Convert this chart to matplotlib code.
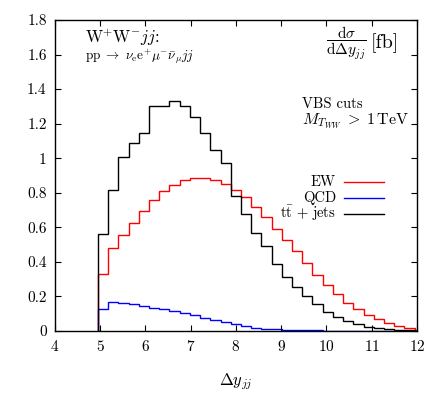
import numpy as np
import matplotlib
matplotlib.use("Agg")
import matplotlib.pyplot as plt
from matplotlib.ticker import FormatStrFormatter

# ============================================
# DATA
# ============================================

bin_start = 4.95
bin_width = 0.2257

ew = [0.329, 0.481, 0.558, 0.627, 0.694, 0.756, 0.808, 0.846, 0.875, 0.885,
      0.885, 0.875, 0.852, 0.818, 0.775, 0.717, 0.660, 0.590, 0.525, 0.462,
      0.394, 0.327, 0.267, 0.212, 0.160, 0.125, 0.092, 0.067, 0.044, 0.029,
      0.016, 0.006]

qcd = [0.130, 0.165, 0.162, 0.154, 0.145, 0.135, 0.125, 0.114, 0.102, 0.090,
       0.077, 0.064, 0.050, 0.038, 0.028, 0.020, 0.014, 0.010, 0.007, 0.005,
       0.004, 0.003, 0.002, 0.002, 0.001, 0.001, 0.001, 0.001, 0.0, 0.0,
       0.0, 0.0]

ttbar = [0.560, 0.818, 1.010, 1.089, 1.144, 1.304, 1.304, 1.333, 1.304, 1.241,
         1.144, 1.050, 0.971, 0.779, 0.679, 0.570, 0.490, 0.385, 0.310, 0.256,
         0.202, 0.156, 0.108, 0.079, 0.056, 0.040, 0.025, 0.016, 0.010, 0.006,
         0.004, 0.002]

labels = ["EW", "QCD", r"$\mathrm{t}\bar{\mathrm{t}}\,+\,\mathrm{jets}$"]
colors = ["#ff0000", "#0000ff", "#000000"]

x_ticks = [4, 5, 6, 7, 8, 9, 10, 11, 12]
y_ticks = [0, 0.2, 0.4, 0.6, 0.8, 1, 1.2, 1.4, 1.6, 1.8]

# ============================================
# STYLE
# ============================================

plt.rcParams["font.family"] = "serif"
plt.rcParams["font.serif"] = ["cmr10"]
plt.rcParams["mathtext.fontset"] = "cm"
plt.rcParams["axes.formatter.use_mathtext"] = True

fig = plt.figure(figsize=(4.36, 3.94), dpi=100)
ax = fig.add_axes([0.1261, 0.1599, 0.8303, 0.7893])

edges = bin_start + bin_width * np.arange(len(ew) + 1)

for vals, col in zip([ew, qcd, ttbar], colors):
    ax.stairs(vals, edges, color=col, linewidth=1.0, baseline=0)

ax.set_xlim(4, 12)
ax.set_ylim(0, 1.8)
ax.set_xticks(x_ticks)
ax.set_yticks(y_ticks)
ax.yaxis.set_major_formatter(FormatStrFormatter("%g"))
ax.tick_params(direction="in", top=True, right=True, length=4, width=0.8,
               labelsize=11, pad=6)
for sp in ax.spines.values():
    sp.set_linewidth(1.0)

ax.set_xlabel(r"$\Delta y_{jj}$", fontsize=12, labelpad=12)

# ============================================
# ANNOTATIONS
# ============================================

ax.text(0.083, 0.927, r"$\mathrm{W}^{+}\mathrm{W}^{-}jj$:", transform=ax.transAxes,
        fontsize=12, va="baseline", ha="left")
ax.text(0.083, 0.872,
        r"$\mathrm{pp}\ \rightarrow\ \nu_{\mathrm{e}}\mathrm{e}^{+}\mu^{-}\bar{\nu}_{\mu}jj$",
        transform=ax.transAxes, fontsize=9.5, va="baseline", ha="left")

ax.text(0.861, 0.925, r"$\dfrac{\mathrm{d}\sigma}{\mathrm{d}\Delta y_{jj}}$",
        transform=ax.transAxes, fontsize=11, va="center", ha="right")
ax.text(0.872, 0.925, "[fb]", transform=ax.transAxes, fontsize=14.5,
        va="center", ha="left")

ax.text(0.682, 0.718, "VBS cuts", transform=ax.transAxes,
        fontsize=10.5, va="baseline", ha="left")
ax.text(0.682, 0.666, r"$M_{T_{WW}}\;>\;1\,\mathrm{TeV}$", transform=ax.transAxes,
        fontsize=11.5, va="baseline", ha="left")

# legend drawn by hand, gnuplot style (text right, line after)
leg_y = [0.479, 0.428, 0.376]
for lab, col, yy in zip(labels, colors, leg_y):
    ax.text(0.776, yy - 0.012, lab, transform=ax.transAxes, fontsize=10.5,
            ha="right", va="baseline")
    ax.plot([0.798, 0.909], [yy, yy], transform=ax.transAxes, color=col,
            linewidth=1.0)

fig.savefig("out.png", dpi=100)
